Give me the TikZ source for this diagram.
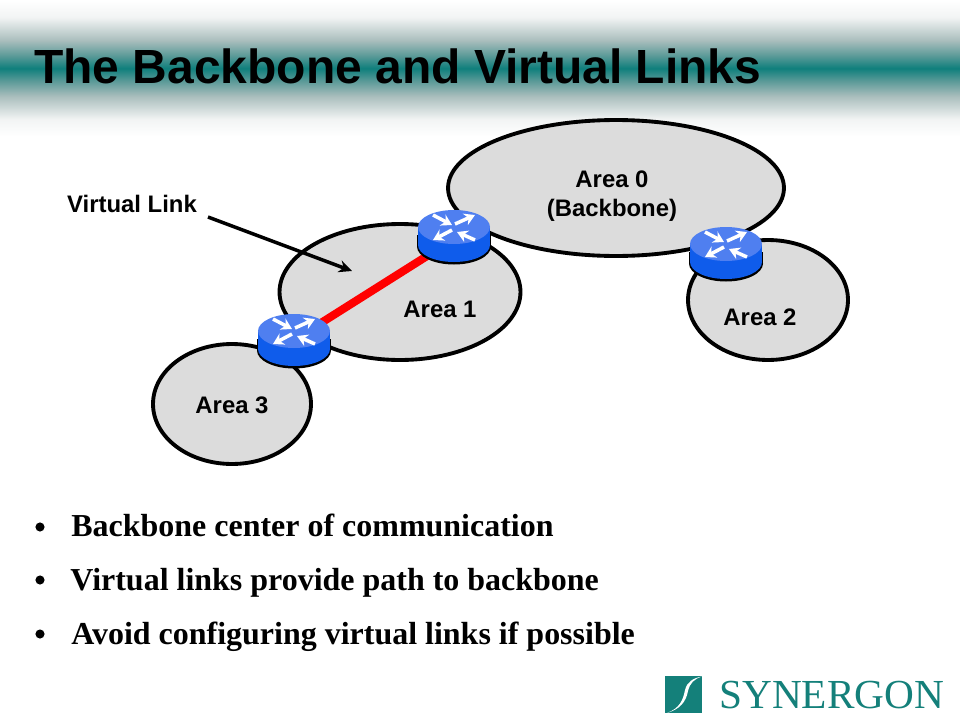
\documentclass[tikz,border=0pt]{standalone}
\usepackage{fontspec}
\setmainfont{Liberation Serif}
\newfontfamily\headfont{Liberation Sans}
\usepackage{xcolor}
\usepackage{tikz}
\usetikzlibrary{positioning,arrows.meta,shapes.geometric,calc}
\definecolor{BandTeal}{HTML}{0F7F7C}
\definecolor{BandMid}{HTML}{5D9B99}
\definecolor{BandGrey}{HTML}{AABEBD}
\definecolor{BandPale}{HTML}{F2F4F4}
\definecolor{AreaGrey}{HTML}{DCDCDC}
\definecolor{RouterTop}{HTML}{4F7FF0}
\definecolor{RouterSide}{HTML}{0F5CEB}
\definecolor{LogoTeal}{HTML}{14807A}
\pgfdeclareverticalshading{BandShade}{100bp}{
  color(0bp)=(white); color(25bp)=(white); color(31.25bp)=(BandPale);
  color(39.7bp)=(BandGrey); color(45.2bp)=(BandMid);
  color(50bp)=(BandTeal);
  color(54.8bp)=(BandMid); color(60.3bp)=(BandGrey);
  color(68.75bp)=(BandPale); color(75bp)=(white); color(100bp)=(white)}
% one router at #1: dark base, blue side, lighter top and four white arrows
\newcommand{\router}[1]{%
  \begin{scope}[shift={(#1)}]
    \fill[black] (0,19.5) ellipse[x radius=37,y radius=18];
    \fill[black] (-37,8) rectangle (37,19.5);
    \fill[RouterSide] (0,18) ellipse[x radius=36,y radius=17];
    \fill[RouterSide] (-36,0) rectangle (36,18);
    \fill[RouterTop] (0,0) ellipse[x radius=36,y radius=17];
    \draw[rarrow] (-21,-12) -- (-2,-2);
    \draw[rarrow] (1,-3) -- (21,-12);
    \draw[rarrow] (-2,3) -- (-21,13);
    \draw[rarrow] (21,13) -- (3,5);
  \end{scope}}
\begin{document}
\begin{tikzpicture}[x=0.02cm,y=-0.02cm,
  area/.style={draw=black,fill=AreaGrey,line width=2.2pt,ellipse,inner sep=0pt},
  lab/.style={font=\headfont\bfseries\fontsize{13.6pt}{16.5pt}\selectfont,align=center,text=black},
  bul/.style={font=\bfseries\fontsize{18.2pt}{20pt}\selectfont,anchor=base west,inner sep=0pt},
  dotb/.style={circle,fill=black,inner sep=0pt,minimum size=5.2pt},
  rarrow/.style={-{Stealth[length=6pt,width=7pt]},white,line width=2pt},
]
  \useasboundingbox (0,0) rectangle (960,720);
  \node[minimum width=19.2cm,minimum height=2.72cm,inner sep=0pt,shading=BandShade,anchor=north west] (band) at (0,0) {};
  \node[font=\headfont\bfseries\fontsize{27.3pt}{30pt}\selectfont,anchor=base west,inner sep=0pt] (title) at (34,83) {The Backbone and Virtual Links};

  % AREAS
  \node[area,minimum width=6.72cm,minimum height=2.72cm] (a0) at (616,188) {};
  \node[area,minimum width=4.82cm,minimum height=2.72cm] (a1) at (400,292) {};
  \node[area,minimum width=3.2cm,minimum height=2.4cm] (a2) at (768,300) {};
  \node[area,minimum width=3.16cm,minimum height=2.4cm] (a3) at (232,404) {};
  \node[lab] (l0) at (612,196) {Area 0\\(Backbone)};
  \node[lab] (l1) at (440,309) {Area 1};
  \node[lab] (l2) at (760,317) {Area 2};
  \node[lab] (l3) at (232,405) {Area 3};

  % ROUTERS
  \coordinate (rt1) at (454,227);
  \coordinate (rt2) at (726,244);
  \coordinate (rt3) at (294,331);
  \coordinate (lk1) at ($(rt1)+(0,12)$);
  \coordinate (lk3) at ($(rt3)+(0,9)$);
  \draw[red,line width=4.6pt] (lk1) -- (lk3);
  \router{rt1}
  \router{rt2}
  \router{rt3}

  % VIRTUAL LINK
  \node[lab] (vl) at (132,204) {Virtual Link};
  \coordinate (vs) at (208,217);
  \coordinate (ve) at (352,271);
  \draw[-{Stealth[length=7.5pt,width=7pt]},line width=2pt] (vs) -- (ve);

  % BULLETS
  \node[bul] (b1) at (71,536) {Backbone center of communication};
  \node[bul] (b2) at (70,590) {Virtual links provide path to backbone};
  \node[bul] (b3) at (71,644) {Avoid configuring virtual links if possible};
  \node[dotb] (d1) at (40,527) {};
  \node[dotb] (d2) at (40,580) {};
  \node[dotb] (d3) at (40,634) {};

  % LOGO
  \fill[LogoTeal] (665,676) rectangle (702,713);
  \fill[white] (667,713) .. controls (680,708) and (683,700) .. (685,690) .. controls (687,682) and (693,678) .. (702,676.5) .. controls (694,679) and (690,683) .. (688,691) .. controls (686,702) and (680,709) .. cycle;
  \node[font=\fontsize{23.5pt}{28pt}\selectfont,text=LogoTeal,anchor=base west,inner sep=0pt] (logo) at (719,708) {SYNERGON};
\end{tikzpicture}
\end{document}
